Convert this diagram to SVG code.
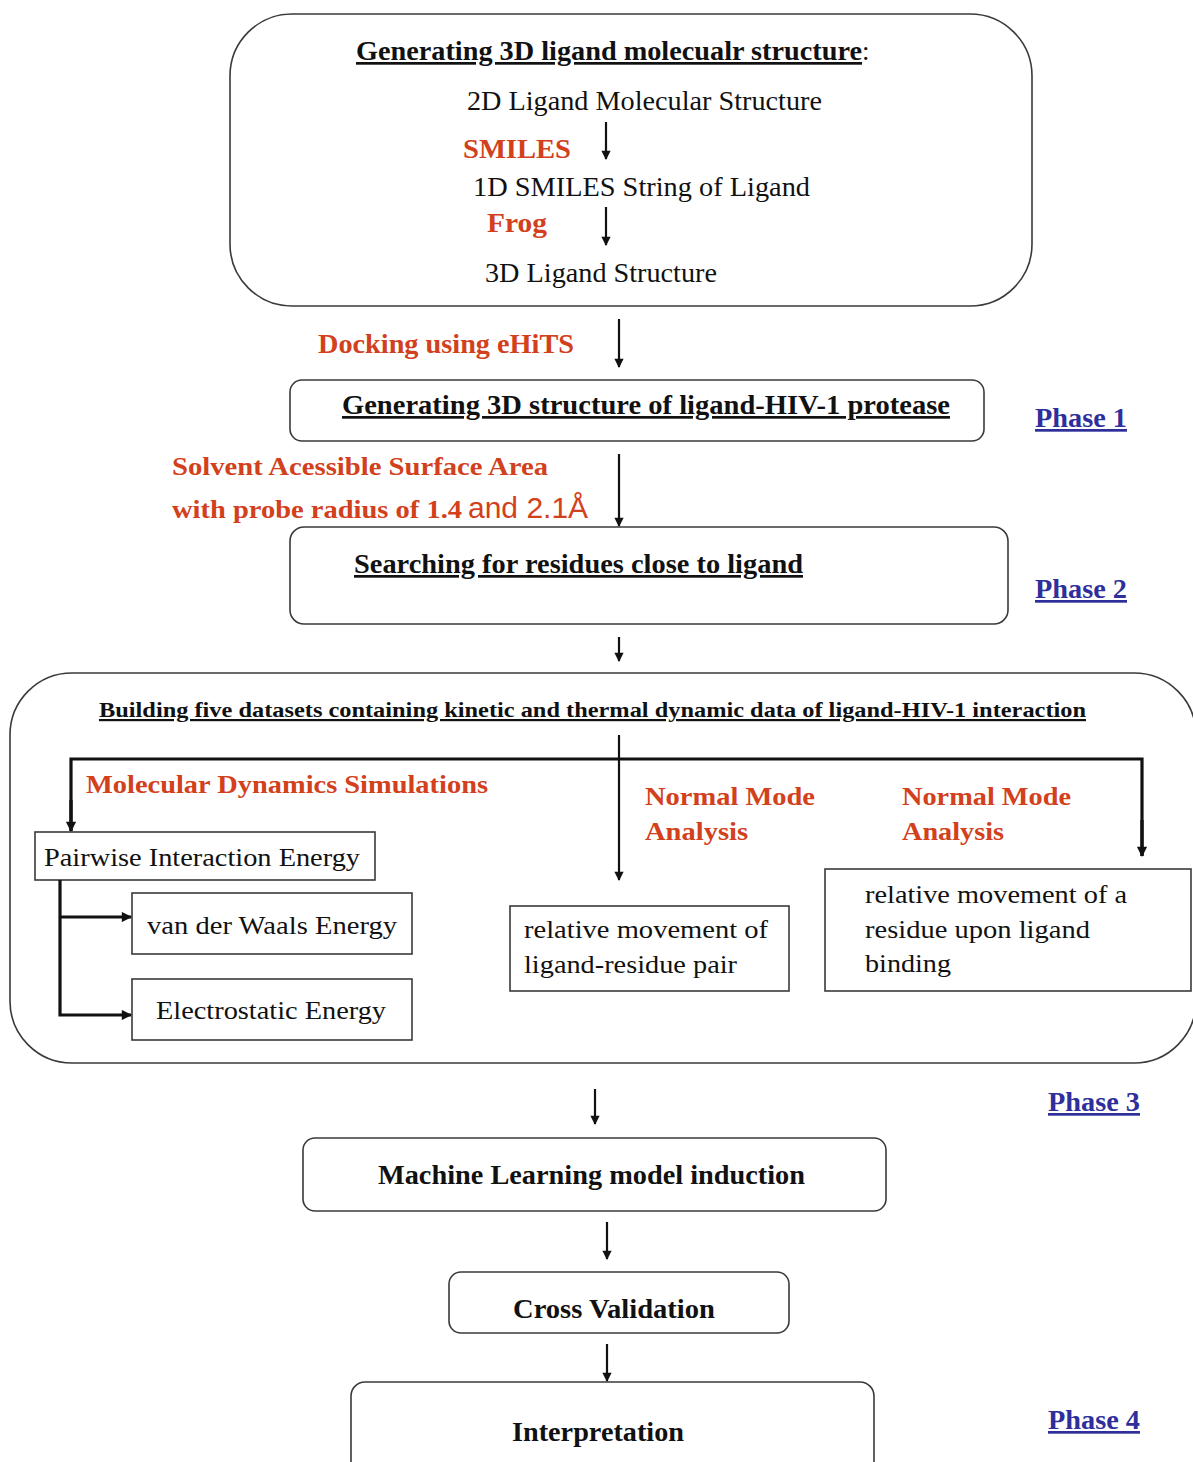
<svg xmlns="http://www.w3.org/2000/svg" width="1193" height="1462" viewBox="0 0 1193 1462">
<style>
.box{fill:#fff;stroke:#3a3a3a;stroke-width:1.6}
.t{font-family:"Liberation Serif","Times New Roman",serif;fill:#111}
.b{font-weight:bold}
.u{text-decoration:underline}
.red{font-family:"Liberation Serif","Times New Roman",serif;font-weight:bold;fill:#d2401c}
.ph{font-family:"Liberation Serif","Times New Roman",serif;font-weight:bold;fill:#2f2f9c;text-decoration:underline}
.ln{stroke:#111;stroke-width:2.2;fill:none}
.thick{stroke:#111;stroke-width:3.2;fill:none}
</style>
<defs>
<marker id="ah" viewBox="0 0 10 10" refX="9" refY="5" markerWidth="4.6" markerHeight="4.2" orient="auto" markerUnits="strokeWidth">
<path d="M0,0 L10,5 L0,10 z" fill="#111"/>
</marker>
<marker id="ah2" viewBox="0 0 10 10" refX="9" refY="5" markerWidth="3.4" markerHeight="3.2" orient="auto" markerUnits="strokeWidth">
<path d="M0,0 L10,5 L0,10 z" fill="#111"/>
</marker>
</defs>
<rect width="1193" height="1462" fill="#fff"/>

<g id="node-gen3d">
<rect class="box" x="230" y="14" width="802" height="292" rx="62"/>
<text class="t b u" x="356" y="60" font-size="27" textLength="506" lengthAdjust="spacingAndGlyphs">Generating 3D ligand molecualr structure</text>
<text class="t" x="862" y="60" font-size="27">:</text>
<text class="t" x="467" y="110" font-size="27" textLength="355" lengthAdjust="spacingAndGlyphs">2D Ligand Molecular Structure</text>
<text class="red" x="463" y="158" font-size="27" textLength="108" lengthAdjust="spacingAndGlyphs">SMILES</text>
<text class="t" x="473" y="196" font-size="27" textLength="337" lengthAdjust="spacingAndGlyphs">1D SMILES String of Ligand</text>
<text class="red" x="487" y="232" font-size="27" textLength="60" lengthAdjust="spacingAndGlyphs">Frog</text>
<text class="t" x="485" y="282" font-size="27" textLength="232" lengthAdjust="spacingAndGlyphs">3D Ligand Structure</text>
</g>

<g id="node-gen-complex">
<rect class="box" x="290" y="380" width="694" height="61" rx="12"/>
<text class="t b u" x="342" y="414" font-size="27" textLength="608" lengthAdjust="spacingAndGlyphs">Generating 3D structure of ligand-HIV-1 protease</text>
</g>

<g id="node-search">
<rect class="box" x="290" y="527" width="718" height="97" rx="14"/>
<text class="t b u" x="354" y="573" font-size="27" textLength="449" lengthAdjust="spacingAndGlyphs">Searching for residues close to ligand</text>
</g>

<g id="node-datasets">
<rect class="box" x="10" y="673" width="1186" height="390" rx="62"/>
<text class="t b u" x="99" y="717" font-size="22" textLength="987" lengthAdjust="spacingAndGlyphs">Building five datasets containing kinetic and thermal dynamic data of ligand-HIV-1 interaction</text>
</g>

<g id="node-pairwise">
<rect class="box" x="35" y="832" width="340" height="48"/>
<text class="t" x="44" y="866" font-size="26" textLength="316" lengthAdjust="spacingAndGlyphs">Pairwise Interaction Energy</text>
</g>
<g id="node-vdw">
<rect class="box" x="132" y="893" width="280" height="61"/>
<text class="t" x="147" y="934" font-size="26" textLength="250" lengthAdjust="spacingAndGlyphs">van der Waals Energy</text>
</g>
<g id="node-elec">
<rect class="box" x="132" y="979" width="280" height="61"/>
<text class="t" x="156" y="1019" font-size="26" textLength="230" lengthAdjust="spacingAndGlyphs">Electrostatic Energy</text>
</g>
<g id="node-relpair">
<rect class="box" x="510" y="906" width="279" height="85"/>
<text class="t" x="524" y="938" font-size="26" textLength="244" lengthAdjust="spacingAndGlyphs">relative movement of</text>
<text class="t" x="524" y="973" font-size="26" textLength="213" lengthAdjust="spacingAndGlyphs">ligand-residue pair</text>
</g>
<g id="node-relres">
<rect class="box" x="825" y="869" width="366" height="122"/>
<text class="t" x="865" y="903" font-size="26" textLength="262" lengthAdjust="spacingAndGlyphs">relative movement of a</text>
<text class="t" x="865" y="938" font-size="26" textLength="225" lengthAdjust="spacingAndGlyphs">residue upon ligand</text>
<text class="t" x="865" y="972" font-size="26" textLength="86" lengthAdjust="spacingAndGlyphs">binding</text>
</g>

<g id="node-ml">
<rect class="box" x="303" y="1138" width="583" height="73" rx="12"/>
<text class="t b" x="378" y="1184" font-size="27" textLength="427" lengthAdjust="spacingAndGlyphs">Machine Learning model induction</text>
</g>
<g id="node-cv">
<rect class="box" x="449" y="1272" width="340" height="61" rx="12"/>
<text class="t b" x="513" y="1318" font-size="27" textLength="202" lengthAdjust="spacingAndGlyphs">Cross Validation</text>
</g>
<g id="node-interp">
<rect class="box" x="351" y="1382" width="523" height="100" rx="14"/>
<text class="t b" x="512" y="1441" font-size="27" textLength="172" lengthAdjust="spacingAndGlyphs">Interpretation</text>
</g>

<g id="labels">
<text class="red" x="318" y="353" font-size="27" textLength="256" lengthAdjust="spacingAndGlyphs">Docking using eHiTS</text>
<text class="red" x="172" y="475" font-size="26" textLength="376" lengthAdjust="spacingAndGlyphs">Solvent Acessible Surface Area</text>
<text x="172" y="518" font-size="26"><tspan class="red" textLength="290" lengthAdjust="spacingAndGlyphs">with probe radius of 1.4</tspan><tspan font-family="'Liberation Sans',Arial,sans-serif" font-size="30" fill="#d2401c" dx="6">and 2.1Å</tspan></text>
<text class="red" x="86" y="793" font-size="26" textLength="402" lengthAdjust="spacingAndGlyphs">Molecular Dynamics Simulations</text>
<text class="red" x="645" y="805" font-size="26" textLength="170" lengthAdjust="spacingAndGlyphs">Normal Mode</text>
<text class="red" x="645" y="840" font-size="26" textLength="103" lengthAdjust="spacingAndGlyphs">Analysis</text>
<text class="red" x="902" y="805" font-size="26" textLength="169" lengthAdjust="spacingAndGlyphs">Normal Mode</text>
<text class="red" x="902" y="840" font-size="26" textLength="102" lengthAdjust="spacingAndGlyphs">Analysis</text>
<text class="ph" x="1035" y="427" font-size="27" textLength="92" lengthAdjust="spacingAndGlyphs">Phase 1</text>
<text class="ph" x="1035" y="598" font-size="27" textLength="92" lengthAdjust="spacingAndGlyphs">Phase 2</text>
<text class="ph" x="1048" y="1111" font-size="27" textLength="92" lengthAdjust="spacingAndGlyphs">Phase 3</text>
<text class="ph" x="1048" y="1429" font-size="27" textLength="92" lengthAdjust="spacingAndGlyphs">Phase 4</text>
</g>

<g id="connectors">
<line class="ln" x1="606" y1="122" x2="606" y2="159" marker-end="url(#ah)"/>
<line class="ln" x1="606" y1="207" x2="606" y2="245" marker-end="url(#ah)"/>
<line class="ln" x1="619" y1="319" x2="619" y2="367" marker-end="url(#ah)"/>
<line class="ln" x1="619" y1="454" x2="619" y2="526" marker-end="url(#ah)"/>
<line class="ln" x1="619" y1="637" x2="619" y2="661" marker-end="url(#ah)"/>
<line class="ln" x1="619" y1="735" x2="619" y2="880" marker-end="url(#ah)"/>
<polyline class="thick" points="71,831 71,759 1142,759 1142,856"/>
<line class="thick" x1="71" y1="800" x2="71" y2="831" marker-end="url(#ah2)"/>
<line class="thick" x1="1142" y1="820" x2="1142" y2="856" marker-end="url(#ah2)"/>
<polyline class="thick" points="60,880 60,1015 131,1015" marker-end="url(#ah2)"/>
<line class="thick" x1="60" y1="917" x2="131" y2="917" marker-end="url(#ah2)"/>
<line class="ln" x1="595" y1="1089" x2="595" y2="1124" marker-end="url(#ah)"/>
<line class="ln" x1="607" y1="1222" x2="607" y2="1259" marker-end="url(#ah)"/>
<line class="ln" x1="607" y1="1344" x2="607" y2="1381" marker-end="url(#ah)"/>
</g>
</svg>
